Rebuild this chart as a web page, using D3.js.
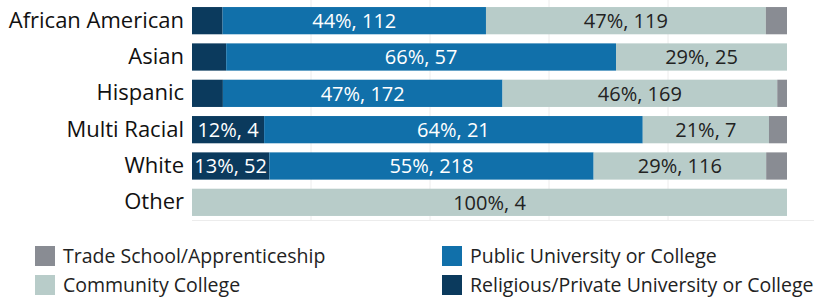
<!DOCTYPE html>
<html>
<head>
<meta charset="utf-8">
<script src="https://cdn.jsdelivr.net/npm/d3@7"></script>
<style>
  body { margin: 0; background: #fff; }
  svg text { font-family: "Open Sans", sans-serif; }
</style>
</head>
<body>
<svg id="chart" width="814" height="298"></svg>
<script>
const categories = ["African American", "Asian", "Hispanic", "Multi Racial", "White", "Other"];

// counts per school type, same order as categories
const religious = [13, 5, 19, 4, 52, 0];
const publicUni = [112, 57, 172, 21, 218, 0];
const community = [119, 25, 169, 7, 116, 4];
const trade = [9, 0, 6, 1, 14, 0];

const gridTicks = [0.2, 0.4, 0.6, 0.8];

const keys = ["religious", "publicUni", "community", "trade"];
const keyNames = {
  trade: "Trade School/Apprenticeship",
  community: "Community College",
  publicUni: "Public University or College",
  religious: "Religious/Private University or College"
};
const color = d3.scaleOrdinal()
  .domain(keys)
  .range(["#0b3a5d", "#1170aa", "#b8ccc9", "#898c93"]);
const labelColor = { religious: "#fff", publicUni: "#fff", community: "#222", trade: "#222" };

const rows = categories.map((c, i) => {
  const total = religious[i] + publicUni[i] + community[i] + trade[i];
  return {
    cat: c,
    total: total,
    religious: religious[i] / total,
    publicUni: publicUni[i] / total,
    community: community[i] / total,
    trade: trade[i] / total,
    counts: { religious: religious[i], publicUni: publicUni[i], community: community[i], trade: trade[i] }
  };
});

const svg = d3.select("#chart");

const x = d3.scaleLinear().domain([0, 1]).range([192, 787]);
const y = d3.scaleBand()
  .domain(categories)
  .range([2.5, 220.5])
  .paddingInner(0.25)
  .paddingOuter(0.125);

// grid
svg.append("g")
  .selectAll("line")
  .data(gridTicks)
  .join("line")
  .attr("x1", d => x(d)).attr("x2", d => x(d))
  .attr("y1", 0).attr("y2", 221)
  .attr("stroke", "#ececec");

svg.append("line")
  .attr("x1", x(0)).attr("x2", 814)
  .attr("y1", 220.5).attr("y2", 220.5)
  .attr("stroke", "#ececec");

const stacked = d3.stack().keys(keys)(rows);

const layers = svg.append("g")
  .selectAll("g")
  .data(stacked)
  .join("g")
  .attr("fill", d => color(d.key));

layers.selectAll("rect")
  .data(d => d)
  .join("rect")
  .attr("x", d => x(d[0]))
  .attr("width", d => x(d[1]) - x(d[0]))
  .attr("y", d => y(d.data.cat))
  .attr("height", y.bandwidth());

// value labels
layers.each(function(layer) {
  const key = layer.key;
  d3.select(this).selectAll("text")
    .data(layer.filter(d => x(d[1]) - x(d[0]) > 60))
    .join("text")
    .attr("x", d => (x(d[0]) + x(d[1])) / 2)
    .attr("y", d => y(d.data.cat) + y.bandwidth() / 2)
    .attr("dy", "0.36em")
    .attr("text-anchor", "middle")
    .attr("fill", labelColor[key])
    .style("font-size", "20px")
    .text(d => Math.round(d.data[key] * 100) + "%, " + d.data.counts[key]);
});

// category axis
const yAxis = svg.append("g")
  .attr("transform", "translate(184,0)")
  .call(d3.axisLeft(y).tickSize(0).tickPadding(0));
yAxis.select(".domain").remove();
yAxis.selectAll("text")
  .attr("fill", "#111")
  .style("font-size", "22px")
  .style("font-family", "'Open Sans', sans-serif");

// legend
const legendItems = [
  { key: "trade", x: 35, y: 246 },
  { key: "community", x: 35, y: 275 },
  { key: "publicUni", x: 442, y: 246 },
  { key: "religious", x: 442, y: 275 }
];
const legend = svg.append("g")
  .selectAll("g")
  .data(legendItems)
  .join("g")
  .attr("transform", d => `translate(${d.x},${d.y})`);
legend.append("rect")
  .attr("width", 20).attr("height", 20)
  .attr("fill", d => color(d.key));
legend.append("text")
  .attr("x", 28).attr("y", 10)
  .attr("dy", "0.36em")
  .attr("fill", "#222")
  .style("font-size", "19.5px")
  .text(d => keyNames[d.key]);
</script>
</body>
</html>
